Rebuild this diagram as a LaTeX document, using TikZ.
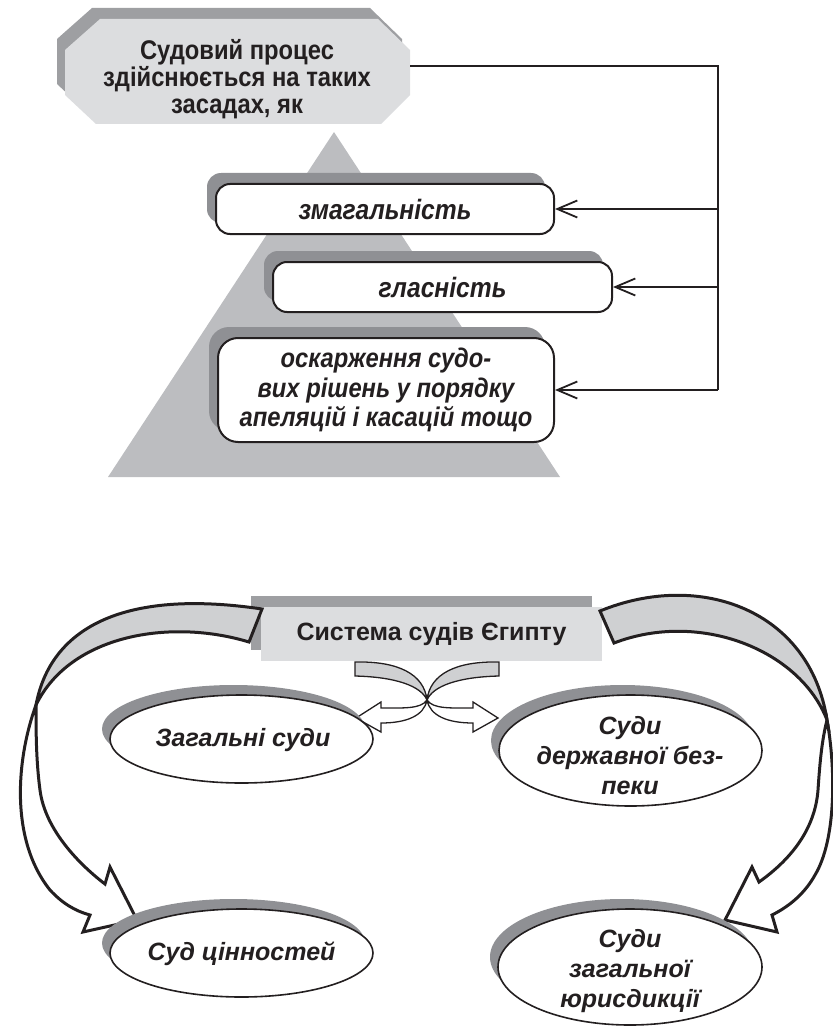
\documentclass[tikz,border=0pt]{standalone}
\usepackage{fontspec}
\setmainfont{Liberation Sans}
\newfontfamily\narrowsans[FakeStretch=0.88]{Liberation Sans}
\usetikzlibrary{shapes.geometric,arrows.meta,shadows}
\definecolor{ink}{HTML}{231F20}
\definecolor{pyr}{HTML}{BCBDC0}
\definecolor{shd}{HTML}{8F9094}
\definecolor{hdr}{HTML}{DCDDDF}
\definecolor{hdrshd}{HTML}{9E9FA2}
\definecolor{band}{HTML}{CFD0D2}
\begin{document}
\begin{tikzpicture}[x=1pt,y=-1pt,
  toptext/.style={align=center,inner sep=0pt,text=ink,font=\narrowsans\bfseries\fontsize{27}{27}\selectfont},
  pbox/.style={draw=ink,line width=2pt,fill=white,rounded corners=14pt,inner sep=0pt,align=center,text=ink,
    font=\narrowsans\bfseries\itshape\fontsize{28}{30}\selectfont,
    general shadow={fill=shd,shadow xshift=-9pt,shadow yshift=11pt}},
  pboxsmall/.style={font=\narrowsans\bfseries\itshape\fontsize{27}{29.5}\selectfont},
  conn/.style={draw=ink,line width=1.8pt},
  arr/.style={draw=ink,line width=1.8pt,-{Straight Barb[length=20pt,width=17pt]}},
  sysbox/.style={fill=hdr,inner sep=0pt,minimum width=341pt,minimum height=54pt,text=ink,
    font=\bfseries\fontsize{25}{29}\selectfont,
    general shadow={fill=hdrshd,shadow xshift=-10pt,shadow yshift=11pt}},
  ell/.style={ellipse,draw=ink,line width=1.6pt,fill=white,inner sep=0pt,
    general shadow={fill=shd,shadow xshift=-8pt,shadow yshift=10pt}},
  elltext/.style={align=center,inner sep=0pt,text=ink,font=\bfseries\itshape\fontsize{25}{30}\selectfont},
  bigband/.style={draw=ink,line width=3pt,line join=miter,fill=band},
  bighead/.style={draw=ink,line width=3pt,line join=miter,fill=white},
  smallband/.style={draw=ink,line width=1.3pt,line join=miter,fill=band},
  smallhead/.style={draw=ink,line width=1.3pt,line join=miter,fill=white}
]
\useasboundingbox (0,0) rectangle (832,1027);

% ---------- upper diagram ----------
\fill[hdrshd] (92,8) -- (370,8) -- (402,39) -- (402,84) -- (373,113) -- (88,113) -- (57,84) -- (57,39) -- cycle;
\fill[hdr] (100,19) -- (378,19) -- (410,50) -- (410,95) -- (381,124) -- (96,124) -- (65,95) -- (65,50) -- cycle;
\node[toptext] (tb) at (237,79) {Судовий процес\\здійснюється на таких\\засадах, як};

\fill[pyr] (334,132) -- (560,477) -- (108,477) -- cycle;

\node[pbox,minimum width=338pt,minimum height=50pt] (b1) at (385,209) {змагальність};
\node[pbox,minimum width=339pt,minimum height=50pt] (b2) at (442.5,287) {гласність};
\node[pbox,pboxsmall,rounded corners=20pt,minimum width=336pt,minimum height=104pt] (b3) at (386,390)
  {оскарження судо-\\вих рішень у порядку\\апеляцій і касацій тощо};

\coordinate (tbR) at (410,66);
\coordinate (busT) at (718,66);
\coordinate (busB) at (718,390);
\draw[conn] (tbR) -- (busT) -- (busB);
\draw[arr] (busT |- b1.east) -- (b1.east);
\draw[arr] (busT |- b2.east) -- (b2.east);
\draw[arr] (busB) -- (b3.east);

% ---------- lower diagram ----------
\node[sysbox] (sys) at (431.5,634) {Система судів Єгипту};

% big left arrow
\draw[bigband] (262,609) .. controls (120,588) and (50,630) .. (36,705)
  .. controls (70,635) and (170,618) .. (249,642) -- cycle;
\draw[bighead] (36,705) .. controls (16,760) and (10,840) .. (50,890)
  .. controls (62,903) and (75,911) .. (90,915) -- (83,932) -- (137,920) -- (110,867) -- (105,884)
  .. controls (80,865) and (45,830) .. (40,790) .. controls (36,760) and (36,730) .. (36,705) -- cycle;

% big right arrow
\draw[bigband] (600,611) .. controls (700,570) and (810,610) .. (827,720)
  .. controls (800,650) and (700,610) .. (614,643) -- cycle;
\draw[bighead] (827,720) .. controls (836,770) and (836,840) .. (815,875)
  .. controls (805,893) and (790,906) .. (772,915) -- (777,932) -- (725,920) -- (752,867) -- (759,882)
  .. controls (790,860) and (815,830) .. (818,790) .. controls (820,760) and (822,740) .. (827,720) -- cycle;

% small crossing arrows
\draw[smallband] (355,662) .. controls (398,661) and (424,674) .. (427,700)
  .. controls (421,686) and (396,677) .. (355,676) -- cycle;
\draw[smallhead] (427,700) .. controls (433,709) and (450,708) .. (473,708) -- (473,702) -- (498,718)
  -- (473,732) -- (473,723) .. controls (448,723) and (430,716) .. (427,700) -- cycle;
\begin{scope}[xshift=854pt,xscale=-1]
\draw[smallband] (355,662) .. controls (398,661) and (424,674) .. (427,700)
  .. controls (421,686) and (396,677) .. (355,676) -- cycle;
\draw[smallhead] (427,700) .. controls (433,709) and (450,708) .. (473,708) -- (473,702) -- (498,718)
  -- (473,732) -- (473,723) .. controls (448,723) and (430,716) .. (427,700) -- cycle;
\end{scope}

% ellipses
\node[ell,minimum width=263pt,minimum height=88pt] (e1) at (241.5,739) {};
\node[ell,minimum width=263pt,minimum height=111pt] (e2) at (630.5,750.5) {};
\node[ell,minimum width=263pt,minimum height=88pt] (e3) at (241.5,953) {};
\node[ell,minimum width=264pt,minimum height=116pt] (e4) at (630,967) {};
\node[elltext] (t1) at (243,740) {Загальні суди};
\node[elltext] (t2) at (630,756) {Суди\\державної без-\\пеки};
\node[elltext] (t3) at (241.5,954) {Суд цінностей};
\node[elltext] (t4) at (630,971) {Суди\\загальної\\юрисдикції};
\end{tikzpicture}
\end{document}
